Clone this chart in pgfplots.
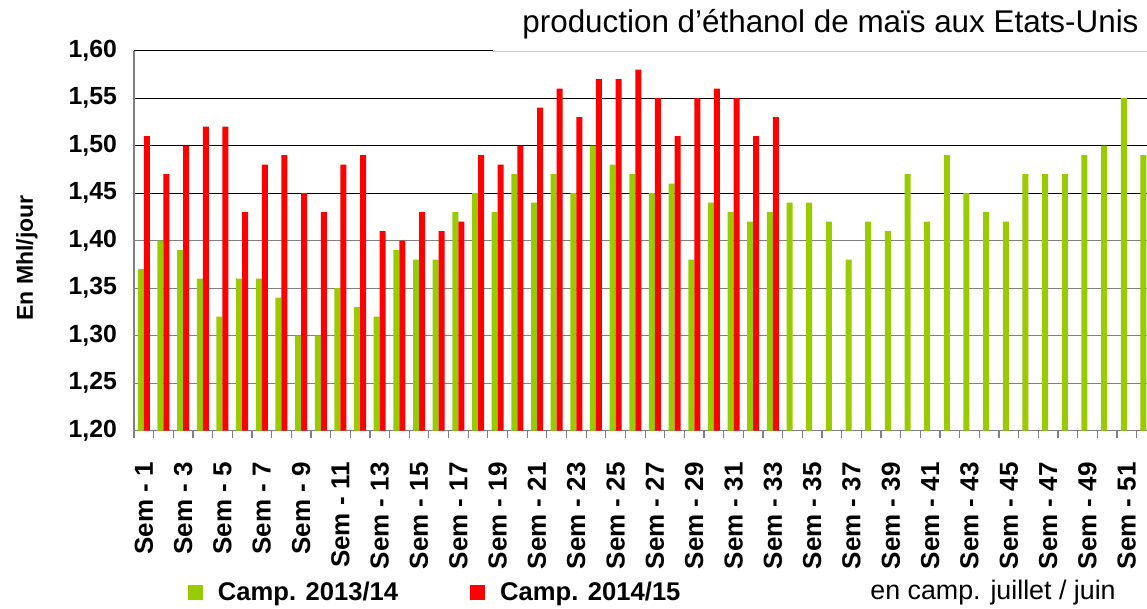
\documentclass[border=0pt]{standalone}
\usepackage{pgfplots}
\pgfplotsset{compat=1.18}
\usepackage{fontspec}
\setmainfont{Liberation Sans}
\definecolor{vert}{HTML}{99CC00}
\definecolor{rouge}{HTML}{FF0000}
\begin{document}
\begin{tikzpicture}
\begin{axis}[
  name=ax,
  scale only axis,
  width=506.5pt, height=190pt,
  at={(0,0)}, anchor=south west,
  xmin=0.5, xmax=52.03,
  ymin=1.2, ymax=1.6,
  ybar=0pt, bar width=3pt,
  axis x line*=bottom, axis y line*=left,
  axis line style={gray, line width=0.6pt},
  ytick={1.45,1.50,1.55,1.60},
  extra y ticks={1.20,1.25,1.30,1.35,1.40},
  extra y tick style={major grid style={gray, line width=0.5pt}},
  ymajorgrids,
  major grid style={black, line width=0.5pt},
  major y tick style={draw=none},
  yticklabel style={/pgf/number format/fixed, /pgf/number format/fixed zerofill,
    /pgf/number format/precision=2, /pgf/number format/use comma,
    /pgf/number format/assume math mode=true,
    font=\bfseries\fontsize{12.4}{14}\selectfont, xshift=-5pt},
  xtick={1,3,...,51},
  xticklabels={Sem - 1,Sem - 3,Sem - 5,Sem - 7,Sem - 9,Sem - 11,Sem - 13,Sem - 15,Sem - 17,Sem - 19,Sem - 21,Sem - 23,Sem - 25,Sem - 27,Sem - 29,Sem - 31,Sem - 33,Sem - 35,Sem - 37,Sem - 39,Sem - 41,Sem - 43,Sem - 45,Sem - 47,Sem - 49,Sem - 51},
  xticklabel style={rotate=90, anchor=east, font=\bfseries\fontsize{13}{15}\selectfont},
  xticklabel shift=8pt,
  minor xtick={0.5,1.5,...,52.5},
  xtick align=outside,
  major x tick style={draw=none},
  minor x tick style={gray, line width=0.6pt},
  minor tick length=3.85pt,
  ylabel={En Mhl/jour},
  every axis y label/.style={at={(axis description cs:-0.1056,0.4545)}, rotate=90, anchor=center, font=\bfseries\fontsize{11.5}{14}\selectfont},
  legend columns=2,
  legend image code/.code={\draw[#1,draw=none] (0pt,-3.75pt) rectangle (7.5pt,3.75pt);},
  legend style={draw=none, fill=none, inner sep=0pt, outer sep=0pt, row sep=0pt,
    at={(0.0533,-0.4271)}, anchor=west,
    font=\bfseries\fontsize{12.8}{15}\selectfont,
    /tikz/every odd column/.append style={column sep=5.5pt},
    /tikz/every even column/.append style={column sep=34pt}},
  legend cell align=left,
]
\addplot[fill=vert, draw=none] coordinates {
(1,1.37) (2,1.40) (3,1.39) (4,1.36) (5,1.32) (6,1.36) (7,1.36) (8,1.34) (9,1.30) (10,1.30)
(11,1.35) (12,1.33) (13,1.32) (14,1.39) (15,1.38) (16,1.38) (17,1.43) (18,1.45) (19,1.43) (20,1.47)
(21,1.44) (22,1.47) (23,1.45) (24,1.50) (25,1.48) (26,1.47) (27,1.45) (28,1.46) (29,1.38) (30,1.44)
(31,1.43) (32,1.42) (33,1.43) (34,1.44) (35,1.44) (36,1.42) (37,1.38) (38,1.42) (39,1.41) (40,1.47)
(41,1.42) (42,1.49) (43,1.45) (44,1.43) (45,1.42) (46,1.47) (47,1.47) (48,1.47) (49,1.49) (50,1.50)
(51,1.55) (52,1.49)};
\addplot[fill=rouge, draw=none] coordinates {
(1,1.51) (2,1.47) (3,1.50) (4,1.52) (5,1.52) (6,1.43) (7,1.48) (8,1.49) (9,1.45) (10,1.43)
(11,1.48) (12,1.49) (13,1.41) (14,1.40) (15,1.43) (16,1.41) (17,1.42) (18,1.49) (19,1.48) (20,1.50)
(21,1.54) (22,1.56) (23,1.53) (24,1.57) (25,1.57) (26,1.58) (27,1.55) (28,1.51) (29,1.55) (30,1.56)
(31,1.55) (32,1.51) (33,1.53)};
\legend{Camp. 2013/14, Camp. 2014/15}
\end{axis}
\fill[white] (179.5pt,189.6pt) rectangle (520pt,225pt);
\draw[black!20, line width=0.5pt] (179.5pt,189.6pt) -- (520pt,189.6pt);
\node[anchor=base west, inner sep=0pt, font=\fontsize{15.7}{19}\selectfont] at (194pt,198.85pt) {production d’éthanol de maïs aux Etats-Unis};
\node[anchor=base west, inner sep=0pt, font=\fontsize{13.4}{16}\selectfont] at (368pt,-84.4pt) {en camp. juillet / juin};
\pgfresetboundingbox
\useasboundingbox (-67pt,-89.15pt) rectangle (506.5pt,215.35pt);
\end{tikzpicture}
\end{document}
